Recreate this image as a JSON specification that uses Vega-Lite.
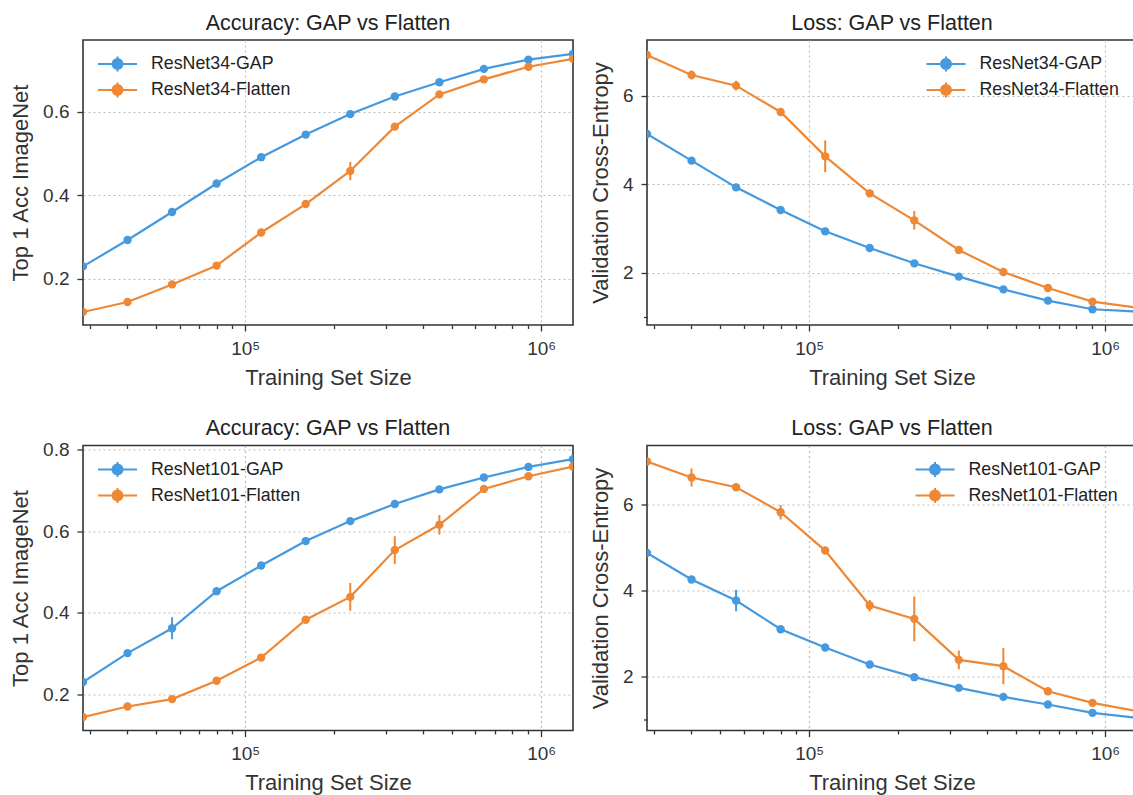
{
  "$schema": "https://vega.github.io/schema/vega-lite/v6.json",
  "padding": {"left": 8, "top": 11, "right": 0, "bottom": 0},
  "background": "white",
  "config": {
    "font": "Liberation Sans",
    "view": {"stroke": "#333333", "strokeWidth": 1.6},
    "axis": {
      "labelFont": "Liberation Sans", "labelFontSize": 19, "labelColor": "#333333",
      "titleFont": "Liberation Sans", "titleFontSize": 22, "titleFontWeight": "normal", "titleColor": "#333333",
      "domain": false, "tickColor": "#333333", "tickWidth": 1.3, "labelPadding": 8,
      "grid": true, "gridColor": "#bdbdbd", "gridDash": [2, 3], "gridWidth": 1.2
    },
    "axisX": {"titlePadding": 9},
    "axisY": {"titlePadding": 10},
    "title": {"font": "Liberation Sans", "fontSize": 21.5, "fontWeight": "normal", "color": "#222222", "offset": 6, "anchor": "middle"},
    "legend": {"labelFont": "Liberation Sans", "labelFontSize": 17.8, "labelColor": "#222222", "padding": 0}
  },
  "datasets": {
    "d": [
      {"panel": "acc34", "series": "ResNet34-GAP", "n": 28310, "v": 0.230, "err": 0.004},
      {"panel": "acc34", "series": "ResNet34-GAP", "n": 40036, "v": 0.293, "err": 0.004},
      {"panel": "acc34", "series": "ResNet34-GAP", "n": 56620, "v": 0.360, "err": 0.004},
      {"panel": "acc34", "series": "ResNet34-GAP", "n": 80073, "v": 0.428, "err": 0.004},
      {"panel": "acc34", "series": "ResNet34-GAP", "n": 113240, "v": 0.491, "err": 0.004},
      {"panel": "acc34", "series": "ResNet34-GAP", "n": 160146, "v": 0.545, "err": 0.004},
      {"panel": "acc34", "series": "ResNet34-GAP", "n": 226480, "v": 0.594, "err": 0.004},
      {"panel": "acc34", "series": "ResNet34-GAP", "n": 320292, "v": 0.636, "err": 0.004},
      {"panel": "acc34", "series": "ResNet34-GAP", "n": 452960, "v": 0.670, "err": 0.004},
      {"panel": "acc34", "series": "ResNet34-GAP", "n": 640583, "v": 0.702, "err": 0.004},
      {"panel": "acc34", "series": "ResNet34-GAP", "n": 905920, "v": 0.724, "err": 0.004},
      {"panel": "acc34", "series": "ResNet34-GAP", "n": 1281167, "v": 0.738, "err": 0.004},
      {"panel": "acc34", "series": "ResNet34-Flatten", "n": 28310, "v": 0.121, "err": 0.004},
      {"panel": "acc34", "series": "ResNet34-Flatten", "n": 40036, "v": 0.145, "err": 0.004},
      {"panel": "acc34", "series": "ResNet34-Flatten", "n": 56620, "v": 0.187, "err": 0.004},
      {"panel": "acc34", "series": "ResNet34-Flatten", "n": 80073, "v": 0.232, "err": 0.004},
      {"panel": "acc34", "series": "ResNet34-Flatten", "n": 113240, "v": 0.311, "err": 0.005},
      {"panel": "acc34", "series": "ResNet34-Flatten", "n": 160146, "v": 0.379, "err": 0.004},
      {"panel": "acc34", "series": "ResNet34-Flatten", "n": 226480, "v": 0.458, "err": 0.022},
      {"panel": "acc34", "series": "ResNet34-Flatten", "n": 320292, "v": 0.564, "err": 0.005},
      {"panel": "acc34", "series": "ResNet34-Flatten", "n": 452960, "v": 0.641, "err": 0.004},
      {"panel": "acc34", "series": "ResNet34-Flatten", "n": 640583, "v": 0.677, "err": 0.004},
      {"panel": "acc34", "series": "ResNet34-Flatten", "n": 905920, "v": 0.707, "err": 0.004},
      {"panel": "acc34", "series": "ResNet34-Flatten", "n": 1281167, "v": 0.726, "err": 0.004},

      {"panel": "loss34", "series": "ResNet34-GAP", "n": 28310, "v": 5.134, "err": 0.04},
      {"panel": "loss34", "series": "ResNet34-GAP", "n": 40036, "v": 4.531, "err": 0.04},
      {"panel": "loss34", "series": "ResNet34-GAP", "n": 56620, "v": 3.928, "err": 0.04},
      {"panel": "loss34", "series": "ResNet34-GAP", "n": 80073, "v": 3.416, "err": 0.04},
      {"panel": "loss34", "series": "ResNet34-GAP", "n": 113240, "v": 2.934, "err": 0.04},
      {"panel": "loss34", "series": "ResNet34-GAP", "n": 160146, "v": 2.557, "err": 0.04},
      {"panel": "loss34", "series": "ResNet34-GAP", "n": 226480, "v": 2.211, "err": 0.04},
      {"panel": "loss34", "series": "ResNet34-GAP", "n": 320292, "v": 1.910, "err": 0.04},
      {"panel": "loss34", "series": "ResNet34-GAP", "n": 452960, "v": 1.623, "err": 0.04},
      {"panel": "loss34", "series": "ResNet34-GAP", "n": 640583, "v": 1.367, "err": 0.04},
      {"panel": "loss34", "series": "ResNet34-GAP", "n": 905920, "v": 1.173, "err": 0.04},
      {"panel": "loss34", "series": "ResNet34-GAP", "n": 1281167, "v": 1.118, "err": 0.04},
      {"panel": "loss34", "series": "ResNet34-Flatten", "n": 28310, "v": 6.919, "err": 0.05},
      {"panel": "loss34", "series": "ResNet34-Flatten", "n": 40036, "v": 6.467, "err": 0.1},
      {"panel": "loss34", "series": "ResNet34-Flatten", "n": 56620, "v": 6.226, "err": 0.11},
      {"panel": "loss34", "series": "ResNet34-Flatten", "n": 80073, "v": 5.631, "err": 0.05},
      {"panel": "loss34", "series": "ResNet34-Flatten", "n": 113240, "v": 4.629, "err": 0.36},
      {"panel": "loss34", "series": "ResNet34-Flatten", "n": 160146, "v": 3.793, "err": 0.05},
      {"panel": "loss34", "series": "ResNet34-Flatten", "n": 226480, "v": 3.183, "err": 0.21},
      {"panel": "loss34", "series": "ResNet34-Flatten", "n": 320292, "v": 2.512, "err": 0.04},
      {"panel": "loss34", "series": "ResNet34-Flatten", "n": 452960, "v": 2.015, "err": 0.04},
      {"panel": "loss34", "series": "ResNet34-Flatten", "n": 640583, "v": 1.653, "err": 0.04},
      {"panel": "loss34", "series": "ResNet34-Flatten", "n": 905920, "v": 1.345, "err": 0.04},
      {"panel": "loss34", "series": "ResNet34-Flatten", "n": 1281167, "v": 1.21, "err": 0.04},

      {"panel": "acc101", "series": "ResNet101-GAP", "n": 28310, "v": 0.230, "err": 0.004},
      {"panel": "acc101", "series": "ResNet101-GAP", "n": 40036, "v": 0.301, "err": 0.004},
      {"panel": "acc101", "series": "ResNet101-GAP", "n": 56620, "v": 0.362, "err": 0.027},
      {"panel": "acc101", "series": "ResNet101-GAP", "n": 80073, "v": 0.453, "err": 0.004},
      {"panel": "acc101", "series": "ResNet101-GAP", "n": 113240, "v": 0.516, "err": 0.004},
      {"panel": "acc101", "series": "ResNet101-GAP", "n": 160146, "v": 0.576, "err": 0.004},
      {"panel": "acc101", "series": "ResNet101-GAP", "n": 226480, "v": 0.625, "err": 0.004},
      {"panel": "acc101", "series": "ResNet101-GAP", "n": 320292, "v": 0.667, "err": 0.004},
      {"panel": "acc101", "series": "ResNet101-GAP", "n": 452960, "v": 0.703, "err": 0.004},
      {"panel": "acc101", "series": "ResNet101-GAP", "n": 640583, "v": 0.732, "err": 0.004},
      {"panel": "acc101", "series": "ResNet101-GAP", "n": 905920, "v": 0.758, "err": 0.004},
      {"panel": "acc101", "series": "ResNet101-GAP", "n": 1281167, "v": 0.777, "err": 0.004},
      {"panel": "acc101", "series": "ResNet101-Flatten", "n": 28310, "v": 0.144, "err": 0.004},
      {"panel": "acc101", "series": "ResNet101-Flatten", "n": 40036, "v": 0.170, "err": 0.004},
      {"panel": "acc101", "series": "ResNet101-Flatten", "n": 56620, "v": 0.188, "err": 0.004},
      {"panel": "acc101", "series": "ResNet101-Flatten", "n": 80073, "v": 0.233, "err": 0.004},
      {"panel": "acc101", "series": "ResNet101-Flatten", "n": 113240, "v": 0.290, "err": 0.004},
      {"panel": "acc101", "series": "ResNet101-Flatten", "n": 160146, "v": 0.383, "err": 0.004},
      {"panel": "acc101", "series": "ResNet101-Flatten", "n": 226480, "v": 0.439, "err": 0.034},
      {"panel": "acc101", "series": "ResNet101-Flatten", "n": 320292, "v": 0.554, "err": 0.034},
      {"panel": "acc101", "series": "ResNet101-Flatten", "n": 452960, "v": 0.616, "err": 0.024},
      {"panel": "acc101", "series": "ResNet101-Flatten", "n": 640583, "v": 0.704, "err": 0.004},
      {"panel": "acc101", "series": "ResNet101-Flatten", "n": 905920, "v": 0.735, "err": 0.004},
      {"panel": "acc101", "series": "ResNet101-Flatten", "n": 1281167, "v": 0.759, "err": 0.004},

      {"panel": "loss101", "series": "ResNet101-GAP", "n": 28310, "v": 4.868, "err": 0.04},
      {"panel": "loss101", "series": "ResNet101-GAP", "n": 40036, "v": 4.248, "err": 0.04},
      {"panel": "loss101", "series": "ResNet101-GAP", "n": 56620, "v": 3.760, "err": 0.25},
      {"panel": "loss101", "series": "ResNet101-GAP", "n": 80073, "v": 3.093, "err": 0.04},
      {"panel": "loss101", "series": "ResNet101-GAP", "n": 113240, "v": 2.667, "err": 0.04},
      {"panel": "loss101", "series": "ResNet101-GAP", "n": 160146, "v": 2.271, "err": 0.04},
      {"panel": "loss101", "series": "ResNet101-GAP", "n": 226480, "v": 1.977, "err": 0.04},
      {"panel": "loss101", "series": "ResNet101-GAP", "n": 320292, "v": 1.729, "err": 0.04},
      {"panel": "loss101", "series": "ResNet101-GAP", "n": 452960, "v": 1.519, "err": 0.04},
      {"panel": "loss101", "series": "ResNet101-GAP", "n": 640583, "v": 1.341, "err": 0.04},
      {"panel": "loss101", "series": "ResNet101-GAP", "n": 905920, "v": 1.147, "err": 0.04},
      {"panel": "loss101", "series": "ResNet101-GAP", "n": 1281167, "v": 1.03, "err": 0.04},
      {"panel": "loss101", "series": "ResNet101-Flatten", "n": 28310, "v": 6.992, "err": 0.05},
      {"panel": "loss101", "series": "ResNet101-Flatten", "n": 40036, "v": 6.620, "err": 0.21},
      {"panel": "loss101", "series": "ResNet101-Flatten", "n": 56620, "v": 6.395, "err": 0.05},
      {"panel": "loss101", "series": "ResNet101-Flatten", "n": 80073, "v": 5.814, "err": 0.17},
      {"panel": "loss101", "series": "ResNet101-Flatten", "n": 113240, "v": 4.922, "err": 0.08},
      {"panel": "loss101", "series": "ResNet101-Flatten", "n": 160146, "v": 3.643, "err": 0.13},
      {"panel": "loss101", "series": "ResNet101-Flatten", "n": 226480, "v": 3.333, "err": 0.52},
      {"panel": "loss101", "series": "ResNet101-Flatten", "n": 320292, "v": 2.380, "err": 0.22},
      {"panel": "loss101", "series": "ResNet101-Flatten", "n": 452960, "v": 2.233, "err": 0.42},
      {"panel": "loss101", "series": "ResNet101-Flatten", "n": 640583, "v": 1.651, "err": 0.04},
      {"panel": "loss101", "series": "ResNet101-Flatten", "n": 905920, "v": 1.380, "err": 0.04},
      {"panel": "loss101", "series": "ResNet101-Flatten", "n": 1281167, "v": 1.186, "err": 0.04}
    ]
  },
  "data": {"name": "d"},
  "columns": 2,
  "spacing": {"row": 27.5, "column": 14},
  "resolve": {"scale": {"color": "independent", "y": "independent", "x": "independent"}, "legend": {"color": "independent"}, "axis": {"x": "independent", "y": "independent"}},
  "concat": [
    {
      "title": "Accuracy: GAP vs Flatten",
      "width": 490, "height": 285,
      "transform": [{"filter": "datum.panel === 'acc34'"}],
      "encoding": {
        "x": {"field": "n", "type": "quantitative", "title": "Training Set Size",
          "scale": {"type": "log", "domain": [28310, 1281167], "nice": false},
          "axis": {"values": [30000, 40000, 50000, 60000, 70000, 80000, 90000, 100000, 200000, 300000, 400000, 500000, 600000, 700000, 800000, 900000, 1000000],
            "labelExpr": "datum.value == 100000 ? '10⁵' : (datum.value == 1000000 ? '10⁶' : '')",
            "labelOverlap": false, "labelFlush": false,
            "tickSize": {"condition": {"test": "datum.value == 100000 || datum.value == 1000000", "value": 6}, "value": 3.5},
            "gridOpacity": {"condition": {"test": "datum.value == 100000 || datum.value == 1000000", "value": 1}, "value": 0}}},
        "y": {"field": "v", "type": "quantitative", "title": "Top 1 Acc ImageNet",
          "scale": {"domain": [0.090, 0.771], "nice": false, "zero": false},
          "axis": {"values": [0.2, 0.4, 0.6], "format": ".1f", "tickSize": 6}},
        "color": {"field": "series", "type": "nominal",
          "scale": {"domain": ["ResNet34-GAP", "ResNet34-Flatten"], "range": ["#4599de", "#ee8835"]},
          "legend": {"orient": "none", "legendX": 23.5, "legendY": 13, "title": null, "symbolSize": 400, "labelOffset": 22.5, "rowPadding": 2,
            "symbolStrokeWidth": 2,
            "symbolType": "M-1.95,0H1.95M0,-0.75V0.75M0.5,0A0.5,0.5 0 1,1 -0.5,0A0.5,0.5 0 1,1 0.5,0Z",
            "encode": {"symbols": {"update": {"fill": {"signal": "indexof(datum.value, 'GAP') >= 0 ? '#4599de' : '#ee8835'"}, "stroke": {"signal": "indexof(datum.value, 'GAP') >= 0 ? '#4599de' : '#ee8835'"}, "opacity": {"value": 1}, "strokeWidth": {"value": 2}}}}}}
      },
      "layer": [
        {"mark": {"type": "line", "strokeWidth": 2.2, "clip": true}},
        {"mark": {"type": "errorbar", "thickness": 2, "clip": true}, "encoding": {"yError": {"field": "err"}}},
        {"mark": {"type": "point", "filled": true, "size": 70, "opacity": 1, "clip": true}}
      ]
    },
    {
      "title": "Loss: GAP vs Flatten",
      "width": 490, "height": 285,
      "transform": [{"filter": "datum.panel === 'loss34'"}],
      "encoding": {
        "x": {"field": "n", "type": "quantitative", "title": "Training Set Size",
          "scale": {"type": "log", "domain": [28310, 1281167], "nice": false},
          "axis": {"values": [30000, 40000, 50000, 60000, 70000, 80000, 90000, 100000, 200000, 300000, 400000, 500000, 600000, 700000, 800000, 900000, 1000000],
            "labelExpr": "datum.value == 100000 ? '10⁵' : (datum.value == 1000000 ? '10⁶' : '')",
            "labelOverlap": false, "labelFlush": false,
            "tickSize": {"condition": {"test": "datum.value == 100000 || datum.value == 1000000", "value": 6}, "value": 3.5},
            "gridOpacity": {"condition": {"test": "datum.value == 100000 || datum.value == 1000000", "value": 1}, "value": 0}}},
        "y": {"field": "v", "type": "quantitative", "title": "Validation Cross-Entropy",
          "scale": {"domain": [0.817, 7.258], "nice": false, "zero": false},
          "axis": {"values": [1, 2, 4, 6], "labelExpr": "datum.value == 1 ? '' : datum.label",
            "tickSize": {"condition": {"test": "datum.value == 1", "value": 3.5}, "value": 6},
            "gridOpacity": {"condition": {"test": "datum.value == 1", "value": 0}, "value": 1}}},
        "color": {"field": "series", "type": "nominal",
          "scale": {"domain": ["ResNet34-GAP", "ResNet34-Flatten"], "range": ["#4599de", "#ee8835"]},
          "legend": {"orient": "none", "legendX": 288, "legendY": 13, "title": null, "symbolSize": 400, "labelOffset": 22.5, "rowPadding": 2,
            "symbolStrokeWidth": 2,
            "symbolType": "M-1.95,0H1.95M0,-0.75V0.75M0.5,0A0.5,0.5 0 1,1 -0.5,0A0.5,0.5 0 1,1 0.5,0Z",
            "encode": {"symbols": {"update": {"fill": {"signal": "indexof(datum.value, 'GAP') >= 0 ? '#4599de' : '#ee8835'"}, "stroke": {"signal": "indexof(datum.value, 'GAP') >= 0 ? '#4599de' : '#ee8835'"}, "opacity": {"value": 1}, "strokeWidth": {"value": 2}}}}}}
      },
      "layer": [
        {"mark": {"type": "line", "strokeWidth": 2.2, "clip": true}},
        {"mark": {"type": "errorbar", "thickness": 2, "clip": true}, "encoding": {"yError": {"field": "err"}}},
        {"mark": {"type": "point", "filled": true, "size": 70, "opacity": 1, "clip": true}}
      ]
    },
    {
      "title": {"text": "Accuracy: GAP vs Flatten", "offset": 1},
      "width": 490, "height": 285,
      "transform": [{"filter": "datum.panel === 'acc101'"}],
      "encoding": {
        "x": {"field": "n", "type": "quantitative", "title": "Training Set Size",
          "scale": {"type": "log", "domain": [28310, 1281167], "nice": false},
          "axis": {"values": [30000, 40000, 50000, 60000, 70000, 80000, 90000, 100000, 200000, 300000, 400000, 500000, 600000, 700000, 800000, 900000, 1000000],
            "labelExpr": "datum.value == 100000 ? '10⁵' : (datum.value == 1000000 ? '10⁶' : '')",
            "labelOverlap": false, "labelFlush": false,
            "tickSize": {"condition": {"test": "datum.value == 100000 || datum.value == 1000000", "value": 6}, "value": 3.5},
            "gridOpacity": {"condition": {"test": "datum.value == 100000 || datum.value == 1000000", "value": 1}, "value": 0}}},
        "y": {"field": "v", "type": "quantitative", "title": "Top 1 Acc ImageNet",
          "scale": {"domain": [0.111, 0.8106], "nice": false, "zero": false},
          "axis": {"values": [0.2, 0.4, 0.6, 0.8], "format": ".1f", "tickSize": 6}},
        "color": {"field": "series", "type": "nominal",
          "scale": {"domain": ["ResNet101-GAP", "ResNet101-Flatten"], "range": ["#4599de", "#ee8835"]},
          "legend": {"orient": "none", "legendX": 23.5, "legendY": 13, "title": null, "symbolSize": 400, "labelOffset": 22.5, "rowPadding": 2,
            "symbolStrokeWidth": 2,
            "symbolType": "M-1.95,0H1.95M0,-0.75V0.75M0.5,0A0.5,0.5 0 1,1 -0.5,0A0.5,0.5 0 1,1 0.5,0Z",
            "encode": {"symbols": {"update": {"fill": {"signal": "indexof(datum.value, 'GAP') >= 0 ? '#4599de' : '#ee8835'"}, "stroke": {"signal": "indexof(datum.value, 'GAP') >= 0 ? '#4599de' : '#ee8835'"}, "opacity": {"value": 1}, "strokeWidth": {"value": 2}}}}}}
      },
      "layer": [
        {"mark": {"type": "line", "strokeWidth": 2.2, "clip": true}},
        {"mark": {"type": "errorbar", "thickness": 2, "clip": true}, "encoding": {"yError": {"field": "err"}}},
        {"mark": {"type": "point", "filled": true, "size": 70, "opacity": 1, "clip": true}}
      ]
    },
    {
      "title": "Loss: GAP vs Flatten",
      "width": 490, "height": 285,
      "transform": [{"filter": "datum.panel === 'loss101'"}],
      "encoding": {
        "x": {"field": "n", "type": "quantitative", "title": "Training Set Size",
          "scale": {"type": "log", "domain": [28310, 1281167], "nice": false},
          "axis": {"values": [30000, 40000, 50000, 60000, 70000, 80000, 90000, 100000, 200000, 300000, 400000, 500000, 600000, 700000, 800000, 900000, 1000000],
            "labelExpr": "datum.value == 100000 ? '10⁵' : (datum.value == 1000000 ? '10⁶' : '')",
            "labelOverlap": false, "labelFlush": false,
            "tickSize": {"condition": {"test": "datum.value == 100000 || datum.value == 1000000", "value": 6}, "value": 3.5},
            "gridOpacity": {"condition": {"test": "datum.value == 100000 || datum.value == 1000000", "value": 1}, "value": 0}}},
        "y": {"field": "v", "type": "quantitative", "title": "Validation Cross-Entropy",
          "scale": {"domain": [0.737, 7.365], "nice": false, "zero": false},
          "axis": {"values": [1, 2, 4, 6], "labelExpr": "datum.value == 1 ? '' : datum.label",
            "tickSize": {"condition": {"test": "datum.value == 1", "value": 3.5}, "value": 6},
            "gridOpacity": {"condition": {"test": "datum.value == 1", "value": 0}, "value": 1}}},
        "color": {"field": "series", "type": "nominal",
          "scale": {"domain": ["ResNet101-GAP", "ResNet101-Flatten"], "range": ["#4599de", "#ee8835"]},
          "legend": {"orient": "none", "legendX": 277, "legendY": 13, "title": null, "symbolSize": 400, "labelOffset": 22.5, "rowPadding": 2,
            "symbolStrokeWidth": 2,
            "symbolType": "M-1.95,0H1.95M0,-0.75V0.75M0.5,0A0.5,0.5 0 1,1 -0.5,0A0.5,0.5 0 1,1 0.5,0Z",
            "encode": {"symbols": {"update": {"fill": {"signal": "indexof(datum.value, 'GAP') >= 0 ? '#4599de' : '#ee8835'"}, "stroke": {"signal": "indexof(datum.value, 'GAP') >= 0 ? '#4599de' : '#ee8835'"}, "opacity": {"value": 1}, "strokeWidth": {"value": 2}}}}}}
      },
      "layer": [
        {"mark": {"type": "line", "strokeWidth": 2.2, "clip": true}},
        {"mark": {"type": "errorbar", "thickness": 2, "clip": true}, "encoding": {"yError": {"field": "err"}}},
        {"mark": {"type": "point", "filled": true, "size": 70, "opacity": 1, "clip": true}}
      ]
    }
  ]
}
